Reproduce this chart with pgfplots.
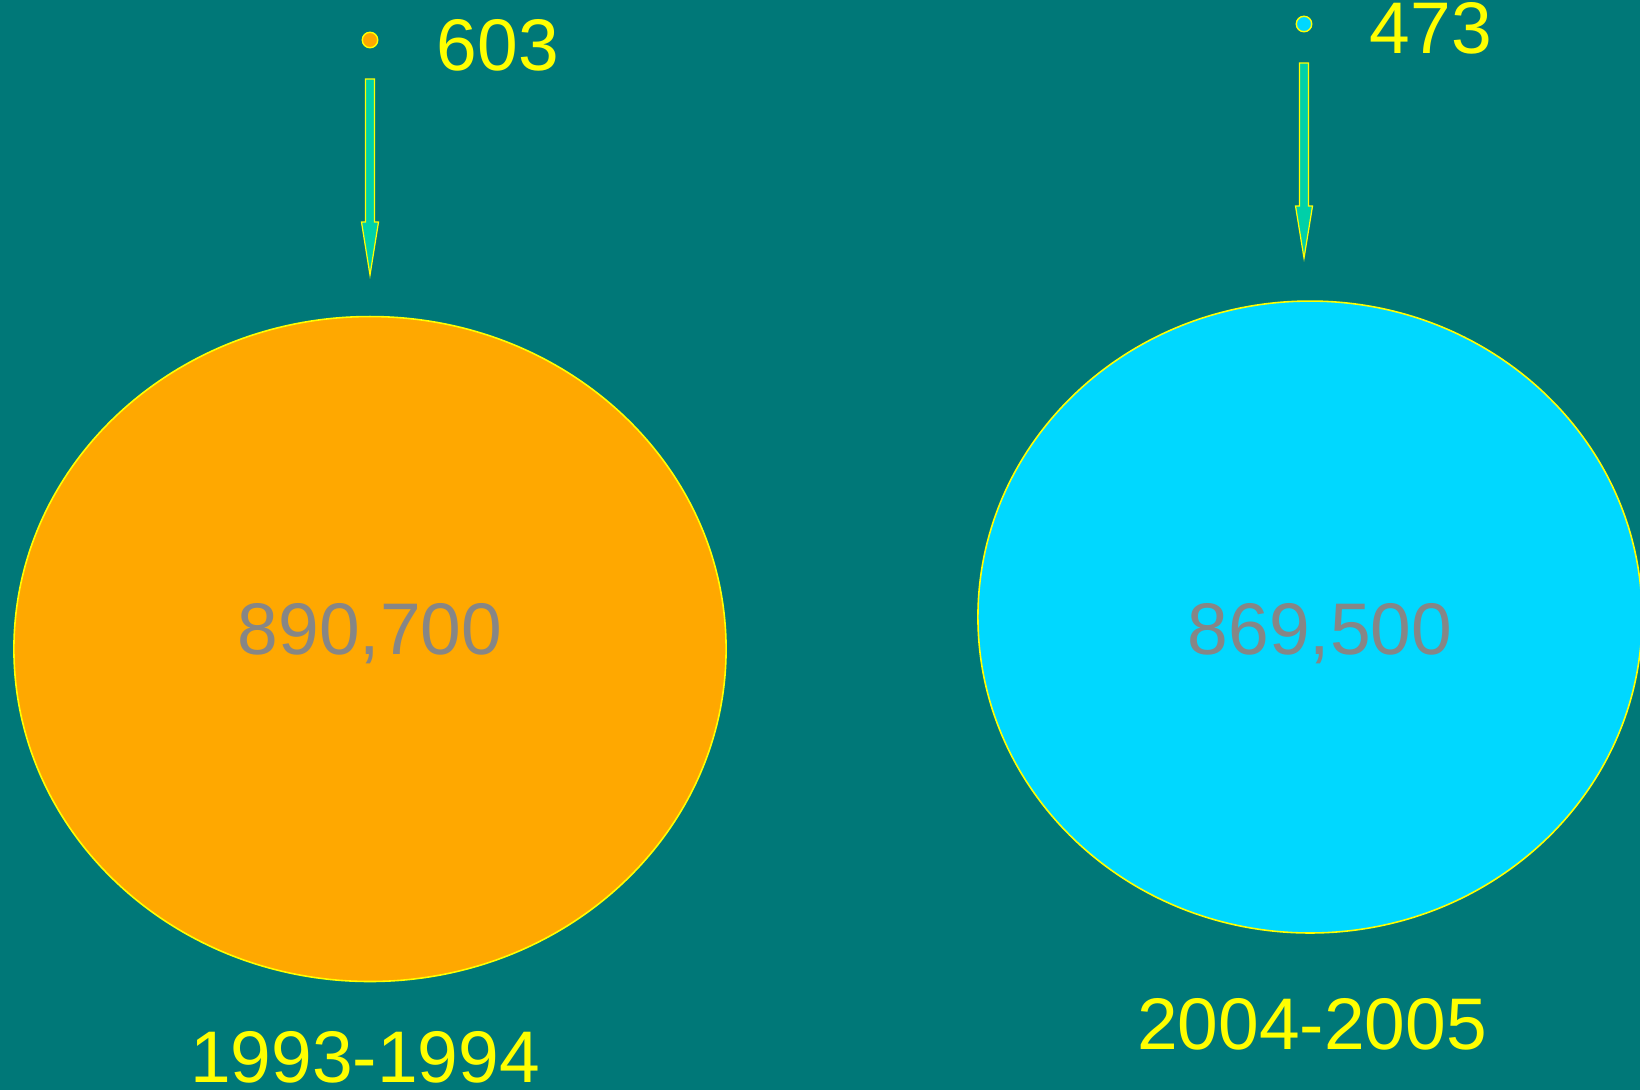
\documentclass[border=0pt]{standalone}
\usepackage{pgfplots}
\pgfplotsset{compat=1.18}
\usepackage{fontspec}
\setmainfont{Liberation Sans}
\definecolor{bgteal}{HTML}{007878}
\definecolor{orng}{HTML}{FFA800}
\definecolor{cyn}{HTML}{00D8FF}
\definecolor{lbl}{HTML}{868686}
\definecolor{ylw}{HTML}{FFFF00}
\definecolor{arr}{HTML}{00D0A8}
\newcommand\bigfont{\fontsize{20.8}{25}\selectfont}
\begin{document}
\begin{tikzpicture}
\begin{axis}[
    scale only axis, width=16.4cm, height=10.9cm,
    xmin=0, xmax=1640, ymin=0, ymax=1090, y dir=reverse,
    hide axis, clip=false,
    point meta=explicit symbolic,
    every node near coord/.append style={font=\bigfont, inner sep=0pt}]
    % background
    \fill[bgteal] (rel axis cs:0,0) rectangle (rel axis cs:1,1);
    % big bubbles
    \addplot[only marks, mark=*, mark size=94.6pt,
        mark options={fill=orng, draw=ylw, line width=0.45pt, xscale=1.071},
        nodes near coords,
        nodes near coords style={anchor=base, text=lbl, yshift=-0.05cm}]
        coordinates {(370,649) [{890,700}]};
    \addplot[only marks, mark=*, mark size=89.9pt,
        mark options={fill=cyn, draw=ylw, line width=0.45pt, xscale=1.051},
        nodes near coords,
        nodes near coords style={anchor=base, text=lbl, xshift=0.10cm, yshift=-0.37cm}]
        coordinates {(1310,617) [{869,500}]};
    % arrows
    \draw[ylw, fill=arr, line width=0.35pt] (axis cs:365.5,79) -- (axis cs:374.5,79) -- (axis cs:374.5,222)
        -- (axis cs:378.5,222) -- (axis cs:370,275) -- (axis cs:361.5,222) -- (axis cs:365.5,222) -- cycle;
    \draw[ylw, fill=arr, line width=0.35pt] (axis cs:1299.5,63) -- (axis cs:1308.5,63) -- (axis cs:1308.5,206)
        -- (axis cs:1312.5,206) -- (axis cs:1304,258) -- (axis cs:1295.5,206) -- (axis cs:1299.5,206) -- cycle;
    % small dots
    \addplot[only marks, mark=*, mark size=2.2pt,
        mark options={fill=orng, draw=ylw, line width=0.4pt},
        nodes near coords,
        nodes near coords style={anchor=base west, text=ylw, xshift=0.66cm, yshift=-0.30cm}]
        coordinates {(370,40) [603]};
    \addplot[only marks, mark=*, mark size=2.2pt,
        mark options={fill=cyn, draw=ylw, line width=0.4pt},
        nodes near coords,
        nodes near coords style={anchor=base west, text=ylw, xshift=0.65cm, yshift=-0.29cm}]
        coordinates {(1304,24) [473]};
    % period labels
    \node[anchor=base, text=ylw, font=\bigfont, inner sep=0pt] at (axis cs:365,1082) {1993-1994};
    \node[anchor=base, text=ylw, font=\bigfont, inner sep=0pt] at (axis cs:1312,1049) {2004-2005};
\end{axis}
\pgfresetboundingbox
\path (current axis.south west) rectangle (current axis.north east);
\end{tikzpicture}
\end{document}
